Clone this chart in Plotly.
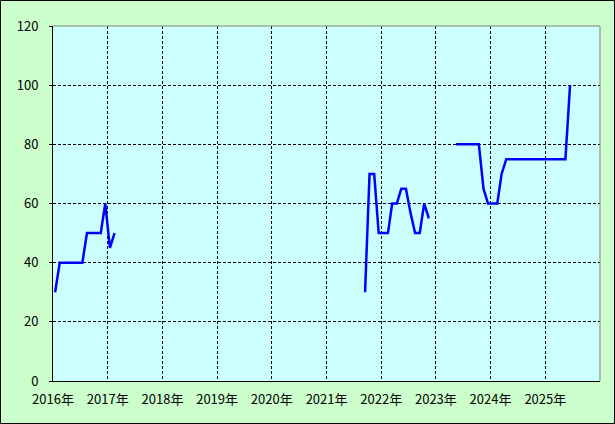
import pandas as pd
import plotly.graph_objects as go

# ---- data ----
seg1_start = "2016-01-15"
seg1_values = [30, 40, 40, 40, 40, 40, 40, 50, 50, 50, 50, 60, 45, 50]
seg2_start = "2021-09-15"
seg2_values = [30, 70, 70, 50, 50, 50, 60, 60, 65, 65, 57, 50, 50, 60, 55]
seg3_start = "2023-05-15"
seg3_values = [80, 80, 80, 80, 80, 80, 65, 60, 60, 60, 70,
               75, 75, 75, 75, 75, 75, 75, 75, 75, 75, 75, 75, 75, 75, 100]

year_ticks = [f"{y}-01-01" for y in range(2016, 2026)]
year_labels = [f"{y}年" for y in range(2016, 2026)]
y_ticks = [0, 20, 40, 60, 80, 100, 120]

# build a single series with gaps between segments
xs, ys = [], []
for start, vals in [(seg1_start, seg1_values), (seg2_start, seg2_values), (seg3_start, seg3_values)]:
    dates = pd.date_range(start=pd.Timestamp(start) - pd.Timedelta(days=14), periods=len(vals), freq="MS") + pd.Timedelta(days=14)
    xs += list(dates) + [None]
    ys += list(vals) + [None]

fig = go.Figure()
fig.add_trace(go.Scatter(x=xs, y=ys, mode="lines", connectgaps=False,
                         line=dict(color="#0000FF", width=2.5), hoverinfo="skip"))

font = dict(family="Noto Sans CJK JP, Noto Sans, sans-serif", size=13, color="#000000")

fig.update_layout(
    width=615, height=424,
    margin=dict(l=53, r=15, t=26, b=43),
    paper_bgcolor="#CCFFCC", plot_bgcolor="#CCFFFF",
    showlegend=False, font=font,
    xaxis=dict(type="date", range=["2016-01-01", "2026-01-01"],
               tickvals=year_ticks, ticktext=year_labels, ticks="",
               showgrid=True, gridcolor="#000000", gridwidth=1, griddash="3px,2px",
               showline=True, linecolor="#000000", linewidth=1, zeroline=False,
               ticklabelstandoff=6, tickfont=font, fixedrange=True),
    yaxis=dict(range=[0, 120], tickvals=y_ticks, ticks="outside", ticklen=3,
               tickcolor="#000000", tickwidth=1,
               showgrid=True, gridcolor="#000000", gridwidth=1, griddash="3px,2px",
               showline=True, linecolor="#000000", linewidth=1, zeroline=False,
               ticklabelstandoff=8, tickfont=font, fixedrange=True),
    shapes=[
        dict(type="line", xref="paper", yref="paper", x0=0, x1=1, y0=1, y1=1,
             line=dict(color="#808080", width=1)),
        dict(type="line", xref="paper", yref="paper", x0=1, x1=1, y0=0, y1=1,
             line=dict(color="#808080", width=1)),
        dict(type="rect", xref="paper", yref="paper",
             x0=-0.09598, x1=1.02651, y0=-0.11972, y1=1.07183,
             line=dict(color="#000000", width=1)),
    ],
)

fig.write_html("out.html", config={"displayModeBar": False},
               post_script="document.body.style.margin='0';document.body.style.padding='0';")
